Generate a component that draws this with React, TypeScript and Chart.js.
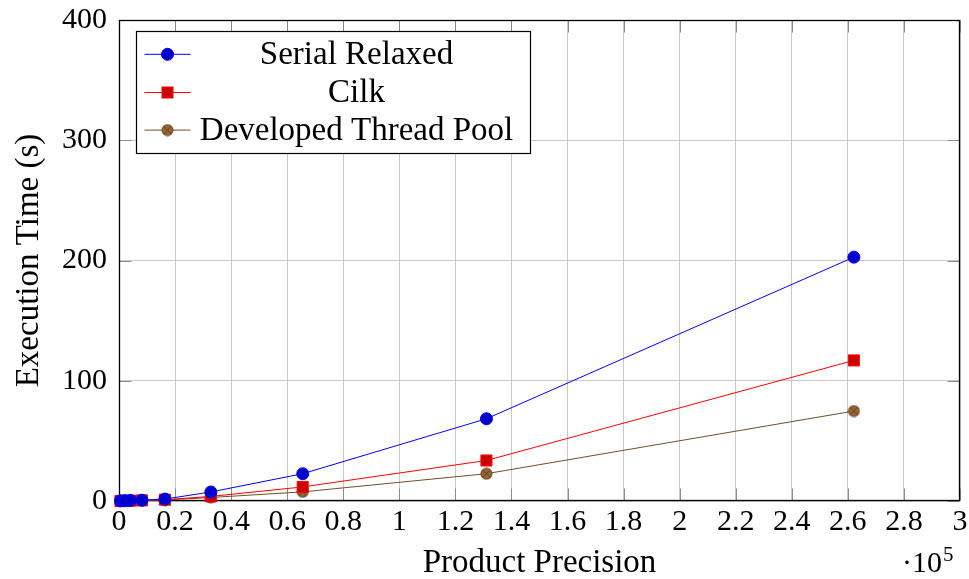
import React, { useEffect, useRef } from "react";
import { Chart, registerables } from "chart.js";

Chart.register(...registerables);

const precision = [512, 2048, 4096, 8192, 16384, 32768, 65536, 131072, 262144];
const serialRelaxed = [0.05, 0.2, 0.5, 0.7, 1.6, 7.5, 22.7, 68.4, 202.8];
const cilk = [0.05, 0.15, 0.3, 0.5, 1.1, 3.8, 11.7, 33.7, 116.9];
const threadPool = [0.05, 0.1, 0.2, 0.4, 0.8, 2.9, 7.6, 22.7, 74.8];
const seriesLabels = ["Serial Relaxed", "Cilk", "Developed Thread Pool"];
const xTickStep = 20000;
const yTicks = [0, 100, 200, 300, 400];

const FONT = "'Liberation Serif', 'Times New Roman', serif";

function makeOtimes(): HTMLCanvasElement {
  const c = document.createElement("canvas");
  c.width = 13;
  c.height = 13;
  const g = c.getContext("2d")!;
  const cx = 6.5, cy = 6.5, r = 5.5;
  g.beginPath();
  g.arc(cx, cy, r, 0, Math.PI * 2);
  g.fillStyle = "#996633";
  g.fill();
  g.lineWidth = 1;
  g.strokeStyle = "#5c3d1e";
  g.stroke();
  const d = r * 0.7071;
  g.beginPath();
  g.moveTo(cx - d, cy - d);
  g.lineTo(cx + d, cy + d);
  g.moveTo(cx + d, cy - d);
  g.lineTo(cx - d, cy + d);
  g.stroke();
  return c;
}

export default function App() {
  const ref = useRef<HTMLCanvasElement | null>(null);

  useEffect(() => {
    document.body.style.margin = "0";
    const canvas = ref.current;
    if (!canvas) return;
    const otimes = makeOtimes();

    const framePlugin = {
      id: "frame",
      beforeDatasetsDraw(chart: any) {
        const { ctx, chartArea: a, scales } = chart;
        const L = Math.round(a.left) + 0.5;
        const R = Math.round(a.right) - 0.5;
        const T = Math.round(a.top) + 0.5;
        const B = Math.round(a.bottom) - 0.5;
        ctx.save();
        ctx.strokeStyle = "#8a8a8a";
        ctx.lineWidth = 1;
        const tl = 12;
        ctx.beginPath();
        scales.x.ticks.forEach((t: any) => {
          const px = Math.round(scales.x.getPixelForValue(t.value)) + 0.5;
          ctx.moveTo(px, B);
          ctx.lineTo(px, B - tl);
          ctx.moveTo(px, T);
          ctx.lineTo(px, T + tl);
        });
        scales.y.ticks.forEach((t: any) => {
          const py = Math.round(scales.y.getPixelForValue(t.value)) + 0.5;
          ctx.moveTo(L, py);
          ctx.lineTo(L + tl, py);
          ctx.moveTo(R, py);
          ctx.lineTo(R - tl, py);
        });
        ctx.stroke();
        ctx.strokeStyle = "#000";
        ctx.lineWidth = 1.3;
        ctx.strokeRect(L, T, R - L, B - T);
        ctx.restore();
      },
      afterDraw(chart: any) {
        const { ctx, chartArea: a } = chart;
        ctx.save();
        ctx.fillStyle = "#000";
        ctx.textBaseline = "alphabetic";
        ctx.font = `30px ${FONT}`;
        ctx.textAlign = "right";
        const xr = a.right - 18;
        ctx.fillText("\u00b710", xr, a.bottom + 71);
        ctx.textAlign = "left";
        ctx.font = `21px ${FONT}`;
        ctx.fillText("5", xr + 1, a.bottom + 60);
        ctx.restore();
      },
    };

    const legendPlugin = {
      id: "boxLegend",
      afterDatasetsDraw(chart: any) {
        const { ctx, chartArea: a } = chart;
        const x0 = Math.round(a.left + 17) + 0.5;
        const y0 = Math.round(a.top + 11) + 0.5;
        const w = 394;
        const h = 122;
        ctx.save();
        ctx.fillStyle = "#fff";
        ctx.fillRect(x0, y0, w, h);
        ctx.strokeStyle = "#000";
        ctx.lineWidth = 1.2;
        ctx.strokeRect(x0, y0, w, h);
        const rows = [y0 + 22.8, y0 + 61, y0 + 98.6];
        const textX = x0 + 220;
        chart.data.datasets.forEach((ds: any, i: number) => {
          const y = rows[i];
          ctx.strokeStyle = ds.borderColor;
          ctx.lineWidth = 1;
          ctx.beginPath();
          ctx.moveTo(x0 + 8, y);
          ctx.lineTo(x0 + 54, y);
          ctx.stroke();
          const mx = x0 + 31;
          if (i === 0) {
            ctx.beginPath();
            ctx.arc(mx, y, 6, 0, Math.PI * 2);
            ctx.fillStyle = ds.pointBackgroundColor;
            ctx.fill();
            ctx.strokeStyle = ds.borderColor;
            ctx.stroke();
          } else if (i === 1) {
            ctx.fillStyle = ds.pointBackgroundColor;
            ctx.fillRect(mx - 5.5, y - 5.5, 11, 11);
            ctx.strokeStyle = ds.borderColor;
            ctx.strokeRect(mx - 5.5, y - 5.5, 11, 11);
          } else {
            ctx.drawImage(otimes, mx - 6.5, y - 6.5);
          }
          ctx.fillStyle = "#000";
          ctx.font = `33px ${FONT}`;
          ctx.textAlign = "center";
          ctx.textBaseline = "middle";
          ctx.fillText(ds.label, textX, y + 1);
        });
        ctx.restore();
      },
    };

    const mk = (vals: number[]) => precision.map((x, i) => ({ x, y: vals[i] }));

    const chart = new Chart(canvas, {
      type: "line",
      data: {
        datasets: [
          {
            label: seriesLabels[0],
            data: mk(serialRelaxed),
            borderColor: "#0000ff",
            backgroundColor: "#0000cc",
            pointBackgroundColor: "#0000cc",
            pointBorderColor: "#0000ff",
            pointStyle: "circle",
            pointRadius: 6,
            borderWidth: 1,
            pointBorderWidth: 1,
            clip: false,
          } as any,
          {
            label: seriesLabels[1],
            data: mk(cilk),
            borderColor: "#ff0000",
            backgroundColor: "#cc0000",
            pointBackgroundColor: "#cc0000",
            pointBorderColor: "#ff0000",
            pointStyle: "rect",
            pointRadius: 7.8,
            borderWidth: 1,
            pointBorderWidth: 1,
            clip: false,
          } as any,
          {
            label: seriesLabels[2],
            data: mk(threadPool),
            borderColor: "#734d26",
            backgroundColor: "#996633",
            pointBackgroundColor: "#996633",
            pointBorderColor: "#734d26",
            pointStyle: otimes,
            pointRadius: 6,
            borderWidth: 1,
            pointBorderWidth: 1,
            clip: false,
          } as any,
        ],
      },
      options: {
        responsive: false,
        animation: false,
        devicePixelRatio: 1,
        layout: { padding: { top: 20, right: 9, left: 0, bottom: 0 } },
        plugins: {
          legend: { display: false },
          tooltip: { enabled: false },
        },
        elements: { line: { tension: 0 } },
        scales: {
          x: {
            type: "linear",
            min: 0,
            max: 300000,
            afterFit: (s: any) => {
              s.height = 78;
              s.paddingLeft = 0;
              s.paddingRight = 0;
            },
            border: { display: false },
            grid: { color: "#c8c8c8", lineWidth: 1, drawTicks: false },
            ticks: {
              stepSize: xTickStep,
              autoSkip: false,
              maxRotation: 0,
              padding: 3,
              color: "#000",
              font: { family: FONT, size: 30 },
              callback: (v: any) => String(Math.round(Number(v) / 10000) / 10),
            },
            title: {
              display: true,
              text: "Product Precision",
              color: "#000",
              font: { family: FONT, size: 33, lineHeight: 1 },
              padding: { top: 0, bottom: -1 },
            },
          },
          y: {
            type: "linear",
            min: yTicks[0],
            max: yTicks[yTicks.length - 1],
            afterFit: (s: any) => {
              s.width = 119;
              s.paddingTop = 0;
              s.paddingBottom = 0;
            },
            border: { display: false },
            grid: { color: "#c8c8c8", lineWidth: 1, drawTicks: false },
            ticks: {
              stepSize: yTicks[1] - yTicks[0],
              padding: 12,
              color: "#000",
              font: { family: FONT, size: 30 },
            },
            title: {
              display: true,
              text: "Execution Time (s)",
              color: "#000",
              font: { family: FONT, size: 33, lineHeight: 1 },
              padding: { top: 13, bottom: 0 },
            },
          },
        },
      },
      plugins: [framePlugin, legendPlugin],
    });

    return () => chart.destroy();
  }, []);

  return (
    <div style={{ width: 969, height: 579 }}>
      <canvas ref={ref} width={969} height={579} style={{ display: "block" }} />
    </div>
  );
}
